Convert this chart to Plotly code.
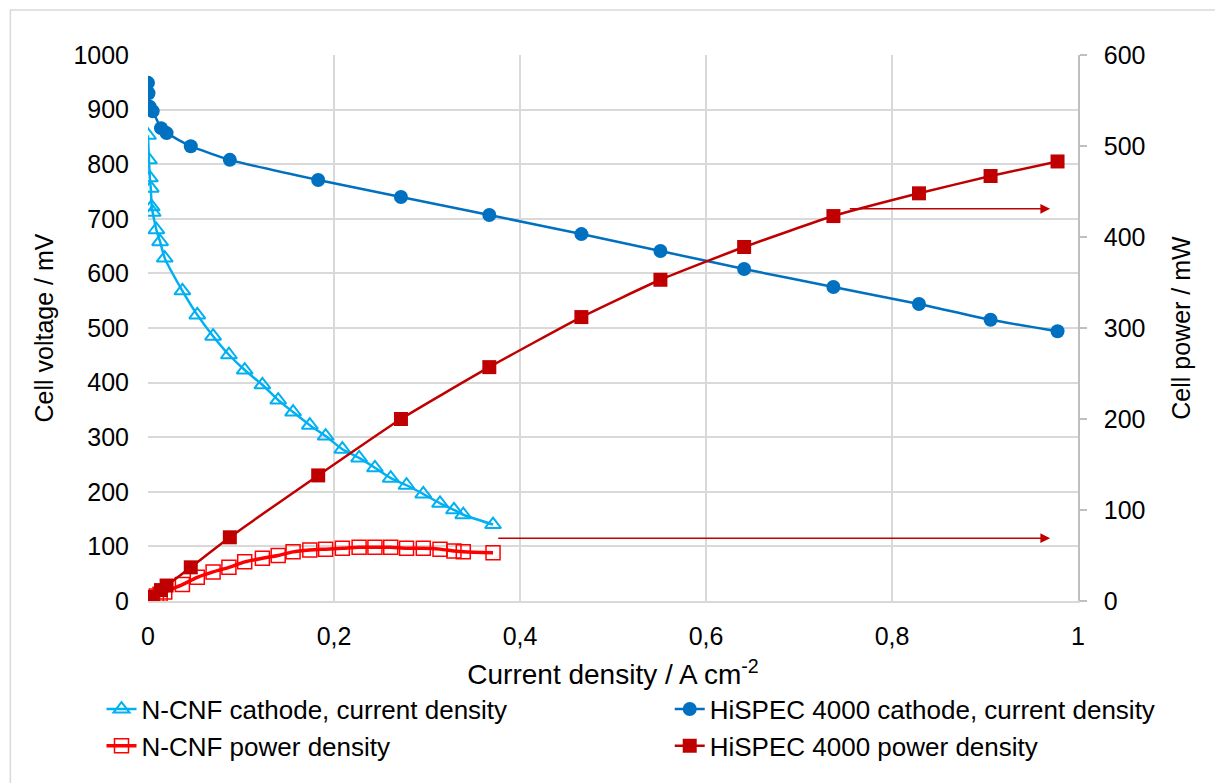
import plotly.graph_objects as go

# N-CNF cathode
ncnf_j = [0, 0.001, 0.002, 0.003, 0.004, 0.005, 0.009, 0.013, 0.018, 0.037, 0.053, 0.070,
          0.087, 0.104, 0.123, 0.140, 0.156, 0.174, 0.191, 0.209, 0.227, 0.244, 0.261,
          0.278, 0.296, 0.314, 0.329, 0.339, 0.371]
ncnf_v = [853, 808, 775, 756, 722, 712, 680, 658, 628, 568, 524, 485,
          451, 423, 396, 368, 346, 322, 302, 278, 262, 244, 225,
          212, 196, 179, 167, 158, 140]
ncnf_p = [0, 0.8, 1.5, 2.2, 2.8, 3.4, 5.5, 7.5, 10, 18, 26, 32,
          37, 43, 47, 50, 54, 56, 57, 58, 59, 59, 59,
          58, 58, 57, 55, 54, 53]

# HiSPEC 4000 cathode
hs_j = [0, 0.0005, 0.002, 0.005, 0.014, 0.020, 0.046, 0.088, 0.183, 0.272, 0.367,
        0.466, 0.551, 0.641, 0.737, 0.829, 0.906, 0.978]
hs_v = [949, 930, 905, 897, 866, 857, 833, 808, 771, 740, 707,
        672, 641, 608, 575, 544, 515, 494]
hs_p = [0, 0.5, 1.8, 4.5, 12, 17, 37, 70, 138, 200, 257,
        312, 353, 389, 423, 448, 467, 483]

x_ticks = [0, 0.2, 0.4, 0.6, 0.8, 1]

C_NCNF = "#00b0f0"
C_HS = "#0070c0"
C_NP = "#ff0000"
C_HP = "#c00000"

FAM = "Liberation Sans, Arial, sans-serif"
tick_font = dict(family=FAM, size=25, color="#000000")
leg_font = dict(family=FAM, size=26, color="#000000")

fig = go.Figure()
fig.add_trace(go.Scatter(x=ncnf_j, y=ncnf_v, name="N-CNF cathode, current density", legend="legend",
                         mode="lines+markers", line=dict(color=C_NCNF, width=2.5, shape="spline", smoothing=0.5),
                         marker=dict(symbol="triangle-up-open", size=14, color=C_NCNF, line=dict(width=2))))
fig.add_trace(go.Scatter(x=ncnf_j, y=ncnf_p, name="N-CNF power density", yaxis="y2", legend="legend",
                         mode="lines+markers", line=dict(color=C_NP, width=3.5, shape="spline", smoothing=0.8),
                         marker=dict(symbol="square-open", size=14, color=C_NP, line=dict(width=1.5))))
fig.add_trace(go.Scatter(x=hs_j, y=hs_v, name="HiSPEC 4000 cathode, current density", legend="legend2",
                         mode="lines+markers", line=dict(color=C_HS, width=2.5, shape="spline", smoothing=0.5),
                         marker=dict(symbol="circle", size=14, color=C_HS)))
fig.add_trace(go.Scatter(x=hs_j, y=hs_p, name="HiSPEC 4000 power density", yaxis="y2", legend="legend2",
                         mode="lines+markers", line=dict(color=C_HP, width=2.5, shape="spline", smoothing=0.5),
                         marker=dict(symbol="square", size=14, color=C_HP)))

leg_common = dict(orientation="v", yanchor="top", xanchor="left", font=leg_font,
                  bgcolor="rgba(0,0,0,0)", tracegroupgap=0, traceorder="normal")

fig.update_layout(
    width=1215, height=783,
    margin=dict(l=148, r=137, t=55, b=182),
    paper_bgcolor="white", plot_bgcolor="white",
    font=dict(family=FAM, size=22, color="#000000"),
    separators=", ",
    showlegend=True,
    xaxis=dict(range=[0, 1], tickvals=x_ticks, tickformat="~g", showgrid=True, gridcolor="#d9d9d9",
               gridwidth=1.5, zeroline=False, showline=True, linecolor="#d9d9d9", linewidth=1.5,
               ticks="", ticklabelstandoff=12, automargin=False,
               title=dict(text="Current density / A cm<sup>-2</sup>", standoff=16,
                          font=dict(family=FAM, size=28, color="#000000")),
               tickfont=tick_font),
    yaxis=dict(range=[0, 1000], dtick=100, showgrid=True, gridcolor="#d9d9d9", gridwidth=1.5,
               zeroline=False, showline=False, ticks="", ticklabelstandoff=18, automargin=False,
               title=dict(text="Cell voltage / mV", standoff=12,
                          font=dict(family=FAM, size=25, color="#000000")),
               tickfont=tick_font),
    yaxis2=dict(range=[0, 600], dtick=100, overlaying="y", side="right", showgrid=False,
                zeroline=False, showline=True, linecolor="#bfbfbf", linewidth=1.5, ticks="outside",
                ticklen=7, tickcolor="#bfbfbf", tickwidth=1.5, ticklabelstandoff=12, automargin=False,
                title=dict(text="Cell power / mW", standoff=28,
                           font=dict(family=FAM, size=25, color="#000000")),
                tickfont=tick_font),
    legend=dict(x=-0.05, y=-0.155, **leg_common),
    legend2=dict(x=0.561, y=-0.155, **leg_common),
)

fig.add_annotation(x=0.97, y=431, xref="x", yref="y2", ax=0.753, ay=431, axref="x", ayref="y2",
                   text="", showarrow=True, arrowhead=2, arrowsize=1.3, arrowwidth=1.5, arrowcolor=C_HP)
fig.add_annotation(x=0.97, y=69, xref="x", yref="y2", ax=0.375, ay=69, axref="x", ayref="y2",
                   text="", showarrow=True, arrowhead=2, arrowsize=1.3, arrowwidth=1.5, arrowcolor=C_HP)

fig.add_shape(type="rect", xref="paper", yref="paper", x0=-0.148, x1=1.25, y0=-0.5, y1=1.0824,
              line=dict(color="#d9d9d9", width=1.5), fillcolor="rgba(0,0,0,0)", layer="below")

fig.write_html("out.html")
